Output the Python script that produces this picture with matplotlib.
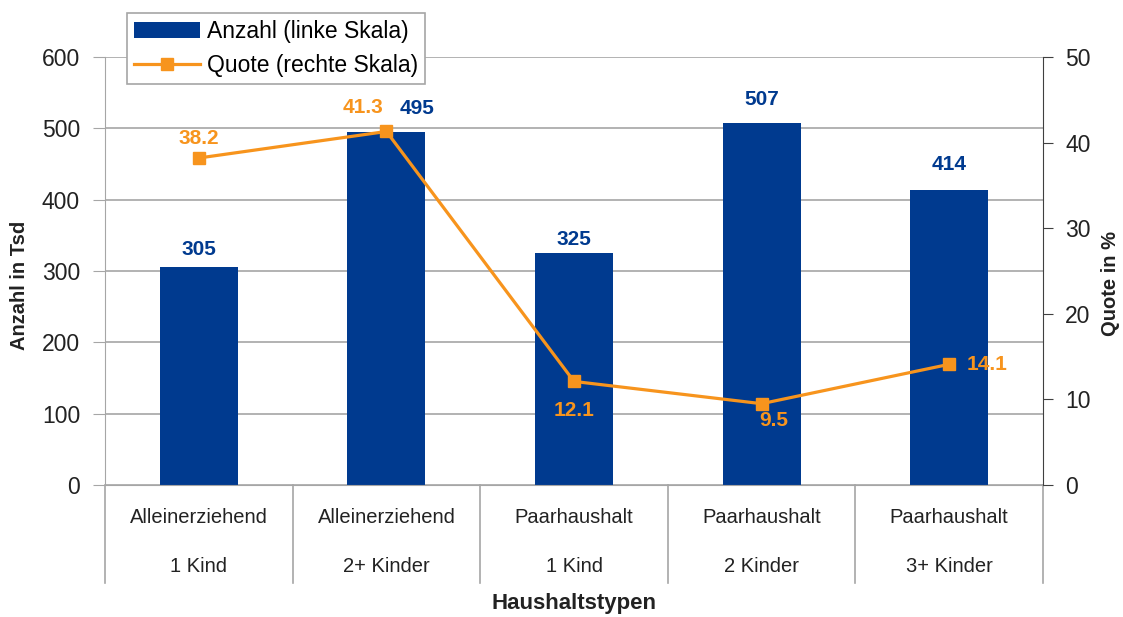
import numpy as np
import matplotlib.pyplot as plt
from matplotlib.transforms import blended_transform_factory

plt.rcParams['font.family'] = ['Liberation Sans', 'DejaVu Sans']

# data
kategorien_1 = ['Alleinerziehend', 'Alleinerziehend', 'Paarhaushalt', 'Paarhaushalt', 'Paarhaushalt']
kategorien_2 = ['1 Kind', '2+ Kinder', '1 Kind', '2 Kinder', '3+ Kinder']
anzahl = [305, 495, 325, 507, 414]
quote = [38.2, 41.3, 12.1, 9.5, 14.1]

navy = '#003A8F'
orange = '#F7941D'
grey = '#A6A6A6'

fig = plt.figure(figsize=(11.23, 6.17), dpi=100)
ax = fig.add_axes([105/1123, 1-485/617, 938/1123, 428/617])
ax2 = ax.twinx()

x = np.arange(len(anzahl))
bars = ax.bar(x, anzahl, width=0.415, color=navy, zorder=2)
line, = ax2.plot(x, quote, color=orange, lw=2.3, marker='s', ms=9, zorder=3)

ax.set_xlim(-0.5, 4.5)
ax.set_ylim(0, 600)
ax.set_yticks(range(0, 601, 100))
ax2.set_ylim(0, 50)
ax2.set_yticks(range(0, 51, 10))
ax.yaxis.grid(True, color=grey, lw=1.2, zorder=0)
ax.set_axisbelow(True)

ax.spines['top'].set_visible(False)
ax2.spines['top'].set_visible(False)
ax.spines['left'].set_color(grey)
ax.spines['bottom'].set_color(grey)
ax2.spines['left'].set_visible(False)
ax2.spines['bottom'].set_visible(False)
ax2.spines['right'].set_color('#404040')
ax.spines['right'].set_visible(False)

ax.tick_params(axis='y', labelsize=16.5, length=9, color=grey, pad=9, labelcolor='#222222')
ax2.tick_params(axis='y', labelsize=16.5, length=7, color='#404040', pad=9, labelcolor='#222222')
ax.set_xticks([])

# category labels with separators
tr = blended_transform_factory(ax.transData, ax.transAxes)
for b in np.arange(-0.5, 5, 1):
    ax.plot([b, b], [0, -0.228], transform=tr, color=grey, lw=1.2, clip_on=False)
for i in x:
    ax.text(i, -0.077, kategorien_1[i], transform=tr, ha='center', va='center', fontsize=14.5, color='#222222')
    ax.text(i, -0.191, kategorien_2[i], transform=tr, ha='center', va='center', fontsize=14.5, color='#222222')

ax.text(0.5, -0.278, 'Haushaltstypen', transform=ax.transAxes, ha='center', va='center',
        fontsize=16, fontweight='bold', color='#222222')
fig.text(20/1123, 1-285/617, 'Anzahl in Tsd', rotation=90, ha='center', va='center',
         fontsize=14.5, fontweight='bold', color='#222222')
fig.text(1110/1123, 1-283/617, 'Quote in %', rotation=90, ha='center', va='center',
         fontsize=14.5, fontweight='bold', color='#222222')

# value labels (offsets in points)
bar_off = [(0, 13), (22, 17), (0, 10), (0, 17), (0, 18)]
for i, v in enumerate(anzahl):
    dx, dy = bar_off[i]
    ax.annotate(str(v), (i, v), xytext=(dx, dy), textcoords='offset points', ha='center', va='center',
                color=navy, fontsize=15, fontweight='bold')
quote_off = [(0, 14), (-17, 17), (0, -21), (9, -12), (27, 0)]
for i, v in enumerate(quote):
    dx, dy = quote_off[i]
    ax2.annotate(f'{v:.1f}', (i, v), xytext=(dx, dy), textcoords='offset points', ha='center', va='center',
                 color=orange, fontsize=15, fontweight='bold')

leg = fig.legend([bars, line], ['Anzahl (linke Skala)', 'Quote (rechte Skala)'],
                 loc='upper left', bbox_to_anchor=(127/1123, 1-13/617), fontsize=16.5,
                 frameon=True, fancybox=False, edgecolor=grey, framealpha=1, borderpad=0.3,
                 handlelength=2.9, handletextpad=0.3, labelspacing=0.5, borderaxespad=0)
leg.get_frame().set_linewidth(1.2)

fig.savefig('out.png', dpi=100)
